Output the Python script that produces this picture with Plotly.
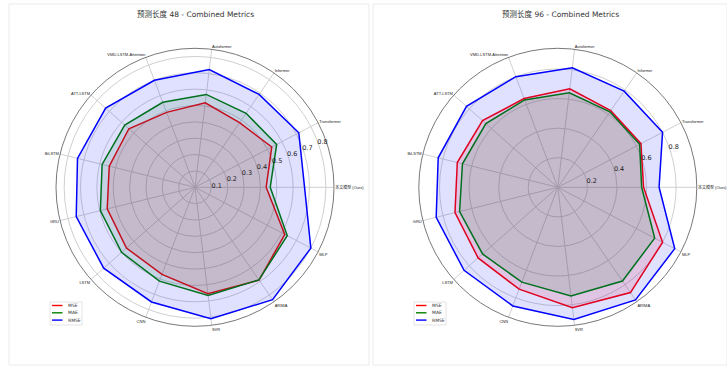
import plotly.graph_objects as go

# Models compared on each radar (counter-clockwise from the right-hand axis)
categories = ["本文模型 (Ours)", "Transformer", "Informer", "Autoformer",
              "VMD-LSTM-Attention", "ATT-LSTM", "BiLSTM", "GRU", "LSTM",
              "CNN", "SVR", "ARIMA", "MLP"]

# Prediction horizon 48
mse_48 = [0.435, 0.53, 0.48, 0.52, 0.49, 0.54, 0.54, 0.553, 0.56, 0.57, 0.655, 0.69, 0.62]
mae_48 = [0.46, 0.564, 0.55, 0.572, 0.556, 0.574, 0.585, 0.596, 0.60, 0.614, 0.667, 0.688, 0.637]
rmse_48 = [0.67, 0.717, 0.69, 0.725, 0.70, 0.73, 0.74, 0.748, 0.746, 0.75, 0.81, 0.835, 0.80]

# Prediction horizon 96
mse_96 = [0.58, 0.635, 0.63, 0.671, 0.642, 0.68, 0.70, 0.716, 0.72, 0.737, 0.82, 0.865, 0.80]
mae_96 = [0.567, 0.625, 0.62, 0.644, 0.632, 0.65, 0.664, 0.684, 0.68, 0.686, 0.74, 0.77, 0.74]
rmse_96 = [0.685, 0.80, 0.79, 0.814, 0.80, 0.825, 0.833, 0.847, 0.847, 0.858, 0.90, 0.925, 0.893]

radial_ticks_48 = [0.1, 0.2, 0.3, 0.4, 0.5, 0.6, 0.7, 0.8]
radial_ticks_96 = [0.2, 0.4, 0.6, 0.8]

metric_names = ["MSE", "MAE", "RMSE"]
metric_colors = ["#ff0000", "#008000", "#0000ff"]
metric_fills = ["rgba(255,0,0,0.12)", "rgba(0,128,0,0.12)", "rgba(0,0,255,0.12)"]

W, H = 727, 367
FONT = "DejaVu Sans, Noto Sans CJK SC, sans-serif"
SMALL_FONT = "Liberation Sans, Noto Sans CJK SC, sans-serif"


def px(x):
    return x / W


def py(y):
    return 1 - y / H


n = len(categories)
angles = [i * 360.0 / n for i in range(n)]
theta_closed = angles + [angles[0]]

panels = [
    dict(polar="polar", title="预测长度 48 - Combined Metrics", cx=195.0, cy=187.3,
         rmax=0.85, ticks=radial_ticks_48, series=[mse_48, mae_48, rmse_48],
         legend_x=50.0, title_x=195.0),
    dict(polar="polar2", title="预测长度 96 - Combined Metrics", cx=557.8, cy=187.3,
         rmax=0.94, ticks=radial_ticks_96, series=[mse_96, mae_96, rmse_96],
         legend_x=414.0, title_x=560.0),
]
R_PX = 139.0

fig = go.Figure()
shapes = []
annotations = []
layout_polars = {}

for p in panels:
    for name, vals, color, fill in zip(metric_names, p["series"], metric_colors, metric_fills):
        fig.add_trace(go.Scatterpolar(
            r=vals + [vals[0]], theta=theta_closed, thetaunit="degrees",
            mode="lines", line=dict(color=color, width=1.5),
            fill="toself", fillcolor=fill, name=name,
            subplot=p["polar"], showlegend=False,
        ))

    layout_polars[p["polar"]] = dict(
        domain=dict(x=[px(p["cx"] - R_PX), px(p["cx"] + R_PX)],
                    y=[py(p["cy"] + R_PX), py(p["cy"] - R_PX)]),
        bgcolor="white",
        radialaxis=dict(
            range=[0, p["rmax"]], tickmode="array", tickvals=p["ticks"],
            ticktext=[f"{t:.1f}" for t in p["ticks"]],
            angle=22.5, tickangle=22.5, showline=False, ticks="",
            gridcolor="#d0d0d0", gridwidth=0.8,
            tickfont=dict(size=6.5, color="#222", family=FONT),
        ),
        angularaxis=dict(
            tickmode="array", tickvals=angles, ticktext=categories,
            rotation=0, direction="counterclockwise", thetaunit="degrees",
            showline=True, linecolor="#555", linewidth=0.8,
            gridcolor="#d0d0d0", gridwidth=0.8, ticks="",
            tickfont=dict(size=4, color="#222", family=SMALL_FONT),
        ),
    )

    annotations.append(dict(
        text=p["title"], x=px(p["title_x"]), y=py(14.5), xref="paper", yref="paper",
        showarrow=False, xanchor="center", yanchor="middle",
        font=dict(size=7.5, color="#333", family=FONT),
    ))

    # Legend box with one line sample per metric
    lx = p["legend_x"]
    shapes.append(dict(type="rect", xref="paper", yref="paper",
                       x0=px(lx), x1=px(lx + 32), y0=py(325), y1=py(302),
                       line=dict(color="#dddddd", width=0.8), fillcolor="white"))
    for i, (name, color) in enumerate(zip(metric_names, metric_colors)):
        yy = 305.5 + i * 7.3
        shapes.append(dict(type="line", xref="paper", yref="paper",
                           x0=px(lx + 2), x1=px(lx + 12.5), y0=py(yy), y1=py(yy),
                           line=dict(color=color, width=1.4)))
        annotations.append(dict(
            text=name, x=px(lx + 16), y=py(yy), xref="paper", yref="paper",
            showarrow=False, xanchor="left", yanchor="middle",
            font=dict(size=4.5, color="#333", family=FONT),
        ))

# Panel frames
for x0, x1 in [(9, 369), (373, 727)]:
    shapes.append(dict(type="rect", xref="paper", yref="paper",
                       x0=px(x0), x1=px(x1), y0=py(365), y1=py(4),
                       line=dict(color="#ebebeb", width=1), layer="below"))

fig.update_layout(
    width=W, height=H, margin=dict(l=0, r=0, t=0, b=0),
    paper_bgcolor="white", plot_bgcolor="white",
    shapes=shapes, annotations=annotations, showlegend=False,
    **layout_polars,
)

fig.write_html("out.html")
